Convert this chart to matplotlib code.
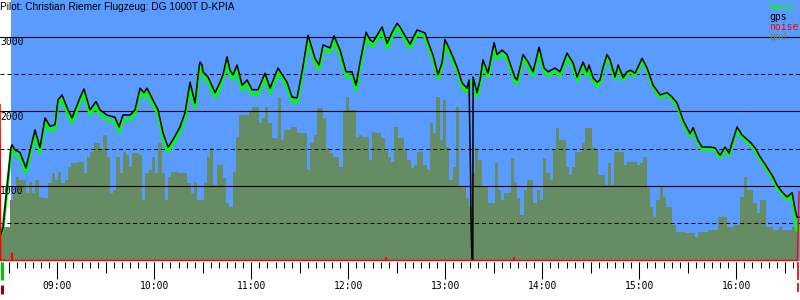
import numpy as np
import matplotlib
matplotlib.use("Agg")
import matplotlib.pyplot as plt
from matplotlib.transforms import blended_transform_factory

# ── Flight data (time = minutes after 08:00, altitude = m) ────────────────────
TITLE = "Pilot: Christian Riemer Flugzeug: DG 1000T D-KPIA"
TAKEOFF_MIN = 31.4
T_START, T_END = 24.56, 519.4

gps_min = [24.6, 26.4, 31.4, 32.0, 33.8, 36.9, 40.6, 46.2, 49.3, 52.4, 55.5, 58.6, 60.4, 62.9,
           66.6, 69.1, 74.0, 76.5, 80.2, 84.0, 86.4, 90.7, 95.7, 98.2, 100.6, 105.0, 108.1,
           111.2, 113.6, 115.5, 119.2, 122.3, 125.4, 128.5, 131.6, 135.9, 139.0, 142.1, 145.2,
           147.7, 148.3, 149.5, 150.1, 153.2, 157.6, 160.7, 162.5, 165.0, 166.8, 168.7, 171.2,
           174.3, 177.4, 180.4, 184.2, 188.5, 191.6, 196.5, 202.1, 205.2, 208.3, 211.4, 215.1,
           219.4, 221.9, 224.4, 228.7, 231.2, 234.9, 238.6, 242.3, 244.8, 247.3, 251.0, 253.4,
           255.3, 260.9, 264.0, 267.1, 270.2, 272.0, 275.1, 278.2, 282.5, 287.5, 289.3, 292.4,
           295.5, 298.0, 299.8, 302.9, 307.3, 310.4, 313.4, 314.7, 315.0, 315.6, 316.0, 316.5,
           317.0, 317.2, 319.6, 321.5, 323.3, 326.4, 330.2, 332.0, 335.1, 338.2, 343.1, 344.4,
           348.1, 351.2, 354.3, 358.0, 361.1, 363.6, 367.9, 371.0, 375.3, 379.0, 381.5, 385.2,
           387.7, 388.9, 391.4, 393.9, 395.7, 397.6, 400.0, 401.9, 405.0, 406.9, 410.0, 412.4,
           414.9, 417.4, 421.7, 424.8, 428.5, 432.9, 437.2, 440.3, 443.4, 447.1, 451.4, 453.3,
           456.3, 458.8, 463.8, 466.9, 470.0, 473.0, 475.5, 478.0, 480.5, 483.6, 488.5, 491.6,
           494.7, 499.0, 502.7, 505.2, 508.3, 511.4, 514.5, 516.4, 517.6, 518.8]
gps_alt = [320, 440, 1520, 1550, 1480, 1450, 1240, 1750, 1510, 1910, 1800, 1820, 2150, 2220,
           2020, 1910, 2180, 2300, 2020, 2130, 2020, 1950, 1920, 1790, 1950, 1950, 2020,
           2310, 2250, 2310, 2150, 2020, 1710, 1520, 1620, 1790, 1980, 2390, 2110,
           2590, 2660, 2620, 2530, 2460, 2250, 2390, 2490, 2730, 2550, 2490, 2620,
           2350, 2420, 2290, 2290, 2510, 2310, 2580, 2390, 2190, 2180, 2530, 3020,
           2710, 2620, 2890, 2850, 3010, 2820, 2530, 2530, 2350, 2660, 3060, 2960,
           2930, 3130, 2910, 3060, 3180, 3130, 3010, 2900, 3090, 3050, 2930, 2750,
           2490, 2650, 2960, 2820, 2590, 2380, 2310, 2420, 1950, 1170, 400, 0,
           0, 2460, 2250, 2420, 2690, 2510, 2920, 2760, 2820, 2760, 2450, 2420,
           2760, 2660, 2530, 2860, 2580, 2530, 2580, 2530, 2780, 2650, 2460, 2660,
           2530, 2620, 2450, 2390, 2420, 2590, 2760, 2690, 2460, 2620, 2450, 2530,
           2550, 2510, 2710, 2580, 2350, 2220, 2250, 2190, 2110, 1880, 1700, 1780,
           1610, 1520, 1520, 1510, 1410, 1520, 1440, 1620, 1790, 1680, 1590, 1510,
           1390, 1250, 1120, 1010, 920, 850, 910, 680, 580, 580]

baro_min = [24.6, 26.4, 31.4, 32.0, 33.8, 36.9, 40.6, 46.2, 49.3, 52.4, 55.5, 58.6, 60.4, 62.9,
            66.6, 69.1, 74.0, 76.5, 80.2, 84.0, 86.4, 90.7, 95.7, 98.2, 100.6, 105.0, 108.1,
            111.2, 113.6, 115.5, 119.2, 122.3, 125.4, 128.5, 131.6, 135.9, 139.0, 142.1, 145.2,
            147.7, 148.3, 149.5, 150.1, 153.2, 157.6, 160.7, 162.5, 165.0, 166.8, 168.7, 171.2,
            174.3, 177.4, 180.4, 184.2, 188.5, 191.6, 196.5, 202.1, 205.2, 208.3, 211.4, 215.1,
            219.4, 221.9, 224.4, 228.7, 231.2, 234.9, 238.6, 242.3, 244.8, 247.3, 251.0, 253.4,
            255.3, 260.9, 264.0, 267.1, 270.2, 272.0, 275.1, 278.2, 282.5, 287.5, 289.3, 292.4,
            295.5, 298.0, 299.8, 302.9, 307.3, 310.4, 313.4, 314.7, 317.2, 319.6, 321.5, 323.3,
            326.4, 330.2, 332.0, 335.1, 338.2, 343.1, 344.4, 348.1, 351.2, 354.3, 358.0, 361.1,
            363.6, 367.9, 371.0, 375.3, 379.0, 381.5, 385.2, 387.7, 388.9, 391.4, 393.9, 395.7,
            397.6, 400.0, 401.9, 405.0, 406.9, 410.0, 412.4, 414.9, 417.4, 421.7, 424.8, 428.5,
            432.9, 437.2, 440.3, 443.4, 447.1, 451.4, 453.3, 456.3, 458.8, 463.8, 466.9, 470.0,
            473.0, 475.5, 478.0, 480.5, 483.6, 488.5, 491.6, 494.7, 499.0, 502.7, 505.2, 508.3,
            511.4, 514.5, 516.4, 517.6, 518.8]
baro_alt = [315, 430, 1470, 1490, 1420, 1390, 1180, 1690, 1450, 1850, 1740, 1760, 2090, 2160,
            1960, 1850, 2120, 2240, 1960, 2070, 1960, 1890, 1860, 1730, 1890, 1890, 1960,
            2250, 2190, 2250, 2090, 1960, 1650, 1460, 1560, 1730, 1920, 2330, 2050,
            2530, 2600, 2560, 2470, 2400, 2190, 2330, 2430, 2670, 2490, 2430, 2560,
            2290, 2360, 2230, 2230, 2450, 2250, 2520, 2330, 2130, 2120, 2470, 2960,
            2650, 2560, 2830, 2790, 2950, 2760, 2470, 2470, 2290, 2600, 3000, 2900,
            2870, 3070, 2850, 3000, 3120, 3080, 2960, 2850, 3040, 3000, 2880, 2700,
            2440, 2600, 2910, 2770, 2540, 2330, 2260, 2370, 2410, 2200, 2370, 2640,
            2460, 2870, 2710, 2770, 2710, 2400, 2370, 2710, 2610, 2480, 2810, 2530,
            2480, 2530, 2480, 2730, 2600, 2410, 2610, 2480, 2570, 2400, 2340, 2370,
            2560, 2730, 2660, 2430, 2590, 2420, 2500, 2520, 2480, 2680, 2550, 2320,
            2190, 2220, 2160, 2080, 1850, 1670, 1750, 1580, 1490, 1490, 1480, 1380,
            1490, 1410, 1590, 1760, 1650, 1560, 1480, 1360, 1220, 1090, 980, 890,
            820, 880, 560, 400, 420]

# terrain under the track, one value per 2-minute step starting 08:24:30
GND_T0, GND_STEP = 24.5, 2.0
gnd_alt = [450, 450, 450, 810, 905, 1120, 1080, 1080, 905, 1050,
           905, 1080, 850, 840, 840, 1040, 1170, 1080, 1190, 1040,
           1080, 1250, 1310, 1310, 1320, 1320, 1170, 1390, 1450, 1575,
           1575, 1480, 1680, 1390, 905, 945, 1390, 1170, 1450, 1410,
           1250, 1440, 1440, 1410, 810, 1170, 1210, 1390, 1170, 1575,
           1170, 810, 1120, 1190, 1190, 1170, 1170, 1170, 1040, 905, 1050, 810,
           810, 1040, 1390, 1510, 1010, 1280, 1280, 1110, 770, 720,
           1190, 1655, 1950, 1950, 1950, 1990, 2060, 2060, 1840, 1910,
           2060, 1840, 1640, 1640, 2180, 1615, 1750, 1750, 1790, 1790,
           1710, 1710, 1710, 1210, 1575, 1680, 2045, 2045, 1910, 1510,
           1440, 1390, 1390, 1250, 2020, 2190, 2020, 2020, 1655, 1680,
           1655, 1655, 1350, 1720, 1710, 1710, 1640, 1480, 1390, 1320, 1790,
           1640, 1640, 1480, 1350, 1240, 1280, 1450, 1450, 1280, 1210,
           1840, 1710, 2190, 1615, 2150, 1520, 1080, 1250, 2060, 985,
           985, 840, 720, 1170, 1510, 1350, 985, 985, 770, 770,
           1310, 945, 810, 905, 905, 1375, 1050, 840, 610, 945,
           1080, 1080, 770, 945, 810, 1375, 1170, 1080, 1480, 1775,
           1615, 1615, 1250, 1145, 1250, 1450, 1450, 1575, 1775, 1775, 1520, 1480,
           1145, 1145, 1010, 1310, 1010, 1450, 1450, 1450, 1280, 1320,
           1320, 1320, 1280, 1310, 1390, 970, 720, 580, 810, 985,
           850, 720, 720, 475, 380, 380, 380, 370, 370, 370,
           315, 380, 380, 380, 410, 410, 410, 580, 580, 580,
           450, 450, 475, 475, 850, 1120, 945, 945, 770, 635,
           810, 810, 450, 450, 410, 410, 450, 410, 410, 410, 450, 410]

noise_min = [24.6, 25.0, 31.8, 32.0, 32.4, 263.0, 263.3, 263.6, 342.2, 342.5, 342.8, 517.8, 518.8]
noise_val = [2090, 0, 0, 100, 0, 0, 40, 0, 0, 40, 0, 0, 920]

hour_ticks = [60, 120, 180, 240, 300, 360, 420, 480]
hour_labels = ["09:00", "10:00", "11:00", "12:00", "13:00", "14:00", "15:00", "16:00"]
solid_levels = [1000, 2000, 3000]
dashed_levels = [500, 1500, 2500]

BLUE = "#5a9bff"
GND = "#658c62"
MONO = "DejaVu Sans Mono"

# ── Figure ───────────────────────────────────────────────────────────────────
fig = plt.figure(figsize=(8, 3), dpi=100)
ax = fig.add_axes([0, 39.5 / 300, 1, 260.5 / 300])
ax.set_xlim(T_START, T_END)
ax.set_ylim(0, 3492)
ax.set_facecolor("white")
ax.axis("off")

ax.axvspan(TAKEOFF_MIN, T_END, color=BLUE, lw=0, zorder=0)

edges = GND_T0 + GND_STEP * np.arange(len(gnd_alt) + 1)
ax.fill_between(edges, np.append(gnd_alt, gnd_alt[-1]), step="post",
                color=GND, lw=0, zorder=1)

for v in solid_levels:
    ax.axhline(v, color="black", lw=0.8, zorder=2)
for v in dashed_levels:
    ax.axhline(v, color="black", lw=0.75, ls=(0, (3.8, 2.9)), zorder=2)

ax.plot(baro_min, baro_alt, color="#00ff00", lw=2.2, zorder=3)
ax.plot(gps_min, gps_alt, color="black", lw=1.1, zorder=4)
ax.plot(noise_min, noise_val, color="#ff0000", lw=1.0, zorder=5, clip_on=False)

trans = blended_transform_factory(ax.transAxes, ax.transData)
for v in solid_levels:
    ax.text(0.0, v - 8, str(v), transform=trans, ha="left", va="top",
            family=MONO, fontsize=7, zorder=6)

# time axis ticks below the plot
tx = blended_transform_factory(ax.transData, ax.transAxes)
minor = np.arange(25, 519, 5)
ax.vlines(minor, -0.004, -0.027, color="black", lw=0.75, transform=tx, clip_on=False)
half = np.arange(30, 519, 60)
ax.vlines(half, -0.004, -0.047, color="black", lw=0.75, transform=tx, clip_on=False)
ax.vlines(hour_ticks, -0.004, -0.07, color="black", lw=0.75, transform=tx, clip_on=False)
for t, lab in zip(hour_ticks, hour_labels):
    ax.text(t, -0.096, lab, transform=tx, ha="center", va="center",
            family=MONO, fontsize=7)

# start / end markers under the axis
ax.vlines([gps_min[0] + 0.9], -0.004, -0.075, color="#00c800", lw=2.2, transform=tx, clip_on=False)
ax.vlines([gps_min[0] + 0.9], -0.095, -0.13, color="#990000", lw=2.2, transform=tx, clip_on=False)
ax.vlines([gps_min[-1] - 0.5], -0.004, -0.075, color="#ee0000", lw=1.2, transform=tx, clip_on=False)
ax.vlines([gps_min[-1] - 0.5], -0.085, -0.12, color="#cc0000", lw=1.2, transform=tx, clip_on=False)

fig.text(0.0, 1 - 1.5 / 300, TITLE, ha="left", va="top", family="Liberation Sans", fontsize=7.3)

for i, (name, col) in enumerate([("baro", "#00ff00"), ("gps", "black"),
                                  ("noise", "#ff0000"), ("gnd", "#6b8a5f")]):
    fig.text(769 / 800, 1 - (7 + 10 * i) / 300, name, color=col, ha="left", va="center",
             family=MONO, fontsize=7)

fig.savefig("out.png", dpi=100)
